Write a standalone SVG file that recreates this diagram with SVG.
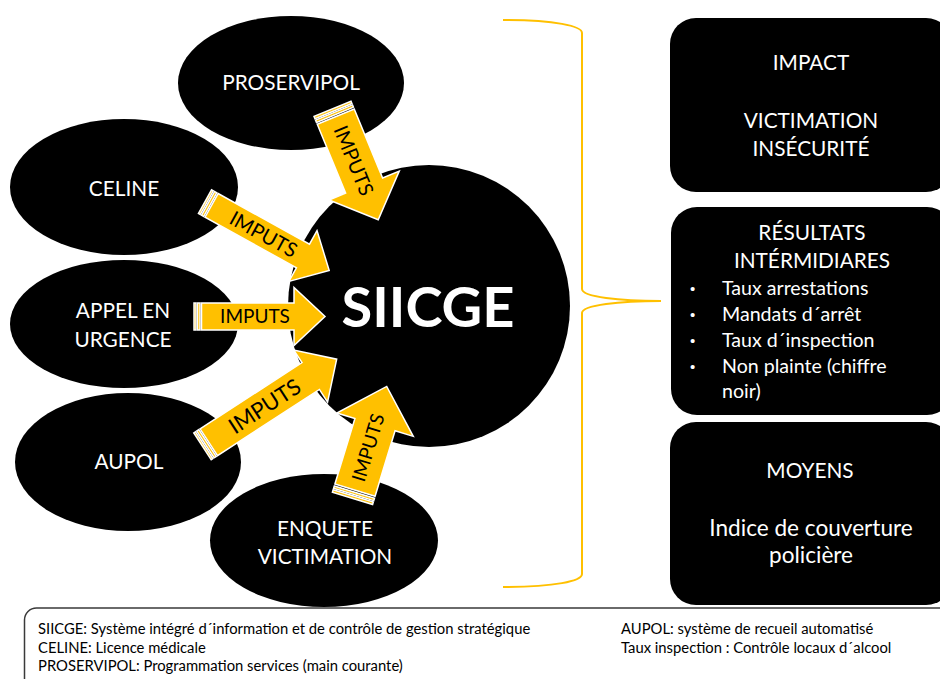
<svg xmlns="http://www.w3.org/2000/svg" width="940" height="679" viewBox="0 0 940 679">
<style>
  .node { fill: #000; }
  .wt { fill: #fff; font-family: Lato, "Liberation Sans", sans-serif; font-size: 20.8px; text-anchor: middle; }
  .wl { font-size: 22.6px; }
  .bt { fill: #fff; font-family: Lato, "Liberation Sans", sans-serif; font-size: 19.6px; }
  .bul { fill: #fff; font-family: "Liberation Sans", sans-serif; font-size: 15px; }
  .big { fill: #fff; font-family: Lato, "Liberation Sans", sans-serif; font-size: 56px; font-weight: bold; text-anchor: middle; }
  .arr { fill: #FFC000; stroke: #fff; stroke-width: 1.5; stroke-linejoin: miter; }
  .at { fill: #000; font-family: Lato, "Liberation Sans", sans-serif; text-anchor: middle; }
  .brace { fill: none; stroke: #FFC000; stroke-width: 2; }
  .leg { fill: #000; font-family: Lato, "Liberation Sans", sans-serif; font-size: 14.8px; }
</style>
<rect width="940" height="679" fill="#fff"/>

<g id="proservipol">
  <ellipse class="node" cx="291" cy="83" rx="113" ry="67"/>
  <text class="wt" x="291" y="90">PROSERVIPOL</text>
</g>
<g id="celine">
  <ellipse class="node" cx="124" cy="187" rx="114" ry="68"/>
  <text class="wt" x="124" y="196">CELINE</text>
</g>
<g id="appel">
  <ellipse class="node" cx="124" cy="324" rx="114" ry="64"/>
  <text class="wt" x="123" y="318">APPEL EN</text>
  <text class="wt" x="123" y="347">URGENCE</text>
</g>
<g id="aupol">
  <ellipse class="node" cx="128" cy="462" rx="113" ry="69"/>
  <text class="wt" x="129" y="469">AUPOL</text>
</g>
<g id="enquete">
  <ellipse class="node" cx="324" cy="540.5" rx="114" ry="66.5"/>
  <text class="wt" x="325" y="536">ENQUETE</text>
  <text class="wt" x="325" y="564">VICTIMATION</text>
</g>
<g id="siicge">
  <circle class="node" cx="429" cy="306" r="141"/>
  <text class="big" x="428" y="327">SIICGE</text>
</g>

<g id="impact">
  <rect class="node" x="670" y="18" width="282" height="174" rx="26"/>
  <text class="wt" x="811" y="70">IMPACT</text>
  <text class="wt" x="811" y="128">VICTIMATION</text>
  <text class="wt" x="811" y="156">INSÉCURITÉ</text>
</g>
<g id="resultats">
  <rect class="node" x="671" y="207" width="282" height="208" rx="26"/>
  <text class="wt" x="812" y="240">RÉSULTATS</text>
  <text class="wt" x="812" y="268">INTÉRMIDIARES</text>
  <text class="bul" x="690" y="294">•</text>
  <text class="bt" x="722" y="295">Taux arrestations</text>
  <text class="bul" x="690" y="320">•</text>
  <text class="bt" x="722" y="321">Mandats d´arrêt</text>
  <text class="bul" x="690" y="345.5">•</text>
  <text class="bt" x="722" y="346.5">Taux d´inspection</text>
  <text class="bul" x="690" y="371.5">•</text>
  <text class="bt" x="722" y="372.5">Non plainte (chiffre</text>
  <text class="bt" x="722" y="398">noir)</text>
</g>
<g id="moyens">
  <rect class="node" x="670" y="422" width="282" height="183" rx="26"/>
  <text class="wt" x="810" y="478">MOYENS</text>
  <text class="wt wl" x="811" y="536">Indice de couverture</text>
  <text class="wt wl" x="811" y="563">policière</text>
</g>

<g id="connectors">
  <g transform="translate(332.5,108.8) rotate(67.6)">
    <rect class="arr" x="0" y="-20" width="2.5" height="40"/>
    <rect class="arr" x="4" y="-20" width="2.5" height="40"/>
    <path class="arr" d="M8.5,-20 H83 V-38 L120,0 L83,38 V20 H8.5 Z"/>
    <text class="at" x="56" y="0" dy="0.36em" font-size="20">IMPUTS</text>
  </g>
  <g transform="translate(205,201.7) rotate(29)">
    <rect class="arr" x="0" y="-13.5" width="2" height="27"/>
    <rect class="arr" x="3.5" y="-13.5" width="2.5" height="27"/>
    <path class="arr" d="M7.5,-13.5 H112 V-29 L142,0 L112,29 V13.5 H7.5 Z"/>
    <text class="at" x="67" y="0" dy="0.36em" font-size="20">IMPUTS</text>
  </g>
  <g transform="translate(194,316.5)">
    <rect class="arr" x="0" y="-13.5" width="2" height="27"/>
    <rect class="arr" x="3.5" y="-13.5" width="2.5" height="27"/>
    <path class="arr" d="M7.5,-13.5 H100 V-29 L131,0 L100,29 V13.5 H7.5 Z"/>
    <text class="at" x="61" y="0" dy="0.36em" font-size="19">IMPUTS</text>
  </g>
  <g transform="translate(202.5,446.3) rotate(-33)">
    <rect class="arr" x="0" y="-16" width="2" height="32"/>
    <rect class="arr" x="3.5" y="-16" width="2.5" height="32"/>
    <path class="arr" d="M7.5,-16 H129 V-31 L160,0 L129,31 V16 H7.5 Z"/>
    <text class="at" x="74" y="0" dy="0.36em" font-size="22">IMPUTS</text>
  </g>
  <g transform="translate(352.5,498.3) rotate(-73)">
    <rect class="arr" x="0" y="-21" width="2.5" height="42"/>
    <rect class="arr" x="4" y="-21" width="2.5" height="42"/>
    <path class="arr" d="M8.5,-21 H77 V-40 L117,0 L77,40 V21 H8.5 Z"/>
    <text class="at" x="53" y="0" dy="0.36em" font-size="19">IMPUTS</text>
  </g>
  <path class="brace" d="M503,20 C555,20 582,26 582,33 L582,289 C582,297 620,301 661,301 C620,301 582,305 582,313 L582,574 C582,581 555,587 503,587"/>
</g>

<g id="legend">
  <rect x="24.5" y="608" width="940" height="100" rx="12" fill="#fff" stroke="#3a3a3a" stroke-width="1.5"/>
  <text class="leg" x="38" y="634">SIICGE: Système intégré d´information et de contrôle de gestion stratégique</text>
  <text class="leg" x="38" y="652.5">CELINE: Licence médicale</text>
  <text class="leg" x="38" y="671">PROSERVIPOL: Programmation services (main courante)</text>
  <text class="leg" x="621" y="634">AUPOL: système de recueil automatisé</text>
  <text class="leg" x="621" y="652.5">Taux inspection : Contrôle locaux d´alcool</text>
</g>
</svg>
